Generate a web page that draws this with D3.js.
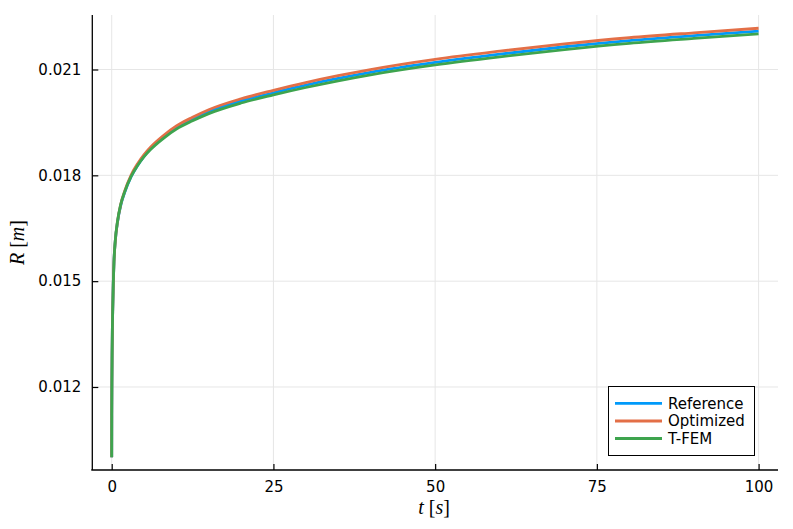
<!DOCTYPE html>
<html>
<head>
<meta charset="utf-8">
<script src="https://cdn.jsdelivr.net/npm/d3@7"></script>
<style>
  html, body { margin: 0; padding: 0; background: #fff; }
  svg { display: block; }
</style>
</head>
<body>
<svg id="chart" width="793" height="529"></svg>
<script>
// ---- data ----
const seriesNames = ["Reference", "Optimized", "T-FEM"];
const tValues = [0, 0.01, 0.03, 0.06, 0.1, 0.15, 0.25, 0.35, 0.55, 0.9, 1.4, 2, 3, 4, 5, 6, 8, 10, 12.5, 15, 20, 25, 30, 35, 40, 50, 60, 70, 80, 90, 100];
const referenceR = [0.01001, 0.0112, 0.0121, 0.0129, 0.0136, 0.01413, 0.01498, 0.01555, 0.01613, 0.01667, 0.01715, 0.01751, 0.01796, 0.01828, 0.01854, 0.01875, 0.01908, 0.01935, 0.019595, 0.0198, 0.02011, 0.02034, 0.02056, 0.02075, 0.02092, 0.0212, 0.021435, 0.021645, 0.02182, 0.02196, 0.02209];
const optimizedR = [0.01001, 0.0112, 0.0121, 0.0129, 0.0136, 0.01413, 0.01498, 0.01554, 0.01613, 0.01669, 0.01718, 0.01755, 0.01801, 0.01833, 0.01859, 0.0188, 0.01913, 0.0194, 0.019645, 0.01986, 0.02017, 0.02041, 0.02063, 0.020825, 0.021, 0.02129, 0.02152, 0.021725, 0.0219, 0.02204, 0.02217];
const tfemR = [0.01001, 0.0112, 0.0121, 0.0129, 0.0136, 0.01413, 0.01498, 0.01555, 0.01615, 0.0167, 0.01718, 0.01753, 0.01797, 0.01828, 0.01853, 0.01873, 0.01905, 0.01931, 0.019545, 0.01975, 0.02005, 0.02028, 0.02049, 0.02068, 0.02085, 0.02113, 0.02136, 0.021565, 0.02174, 0.02188, 0.02201];
const xTicks = [0, 25, 50, 75, 100];
const yTicks = [0.012, 0.015, 0.018, 0.021];
const colors = ["#009AFA", "#E36F47", "#3EA44E"];

// ---- layout ----
const svg = d3.select("#chart");
const pL = 92.3, pR = 778, pT = 15, pB = 470;

const x = d3.scaleLinear().domain([-3, 103]).range([pL, pR]);
const y = d3.scaleLinear().domain([0.009647, 0.022545]).range([pB, pT]);

// grid
const grid = svg.append("g");
grid.selectAll("line.gx").data(xTicks).join("line")
  .attr("x1", d => x(d)).attr("x2", d => x(d))
  .attr("y1", pT).attr("y2", pB)
  .attr("stroke", "#e6e6e6").attr("stroke-width", 1);
grid.selectAll("line.gy").data(yTicks).join("line")
  .attr("x1", pL).attr("x2", pR)
  .attr("y1", d => y(d)).attr("y2", d => y(d))
  .attr("stroke", "#e6e6e6").attr("stroke-width", 1);

// series
const series = [referenceR, optimizedR, tfemR];
const line = d3.line()
  .x((d, i) => x(tValues[i]))
  .y(d => y(d))
  .curve(d3.curveMonotoneX);
series.forEach((s, k) => {
  svg.append("path")
    .datum(s)
    .attr("d", line)
    .attr("fill", "none")
    .attr("stroke", colors[k])
    .attr("stroke-width", 2.8)
    .attr("stroke-linejoin", "round");
});

// axes
const font = "'DejaVu Sans', sans-serif";
const xAxis = d3.axisBottom(x).tickValues(xTicks).tickFormat(d3.format("d"))
  .tickSize(-6).tickSizeOuter(0).tickPadding(11);
const yAxis = d3.axisLeft(y).tickValues(yTicks).tickFormat(d3.format(".3f"))
  .tickSize(-6).tickSizeOuter(0).tickPadding(11);

const gx = svg.append("g").attr("transform", `translate(0,${pB})`).call(xAxis);
const gy = svg.append("g").attr("transform", `translate(${pL},0)`).call(yAxis);
[gx, gy].forEach(g => {
  g.select(".domain").attr("stroke", "#000").attr("stroke-width", 1.3);
  g.selectAll(".tick line").attr("stroke", "#000").attr("stroke-width", 1.2);
  g.selectAll(".tick text").attr("fill", "#000")
    .style("font-family", font).style("font-size", "15px");
});
gx.select(".domain").attr("d", `M${pL - 1},0H${pR}`);
gy.select(".domain").attr("d", `M0,${pT}V${pB}`);

// axis labels
const serif = "'Liberation Serif', 'Times New Roman', serif";
const xl = svg.append("text")
  .attr("x", 434).attr("y", 514)
  .attr("text-anchor", "middle")
  .style("font-family", serif).style("font-size", "20px");
xl.append("tspan").attr("font-style", "italic").text("t");
xl.append("tspan").text(" [");
xl.append("tspan").attr("font-style", "italic").text("s");
xl.append("tspan").text("]");

const yl = svg.append("text")
  .attr("transform", `translate(24,${(pT + pB) / 2}) rotate(-90)`)
  .attr("text-anchor", "middle")
  .style("font-family", serif).style("font-size", "20px");
yl.append("tspan").attr("font-style", "italic").text("R");
yl.append("tspan").text(" [");
yl.append("tspan").attr("font-style", "italic").text("m");
yl.append("tspan").text("]");

// legend
const lg = svg.append("g");
lg.append("rect")
  .attr("x", 608.5).attr("y", 386.5).attr("width", 146).attr("height", 69)
  .attr("fill", "#fff").attr("stroke", "#000").attr("stroke-width", 1);
const rowY = [403.3, 421, 438.5];
seriesNames.forEach((name, k) => {
  lg.append("line")
    .attr("x1", 615).attr("x2", 662).attr("y1", rowY[k]).attr("y2", rowY[k])
    .attr("stroke", colors[k]).attr("stroke-width", 2.8);
  lg.append("text")
    .attr("x", 668).attr("y", rowY[k]).attr("dy", "0.35em")
    .style("font-family", font).style("font-size", "15px")
    .text(name);
});
</script>
</body>
</html>
